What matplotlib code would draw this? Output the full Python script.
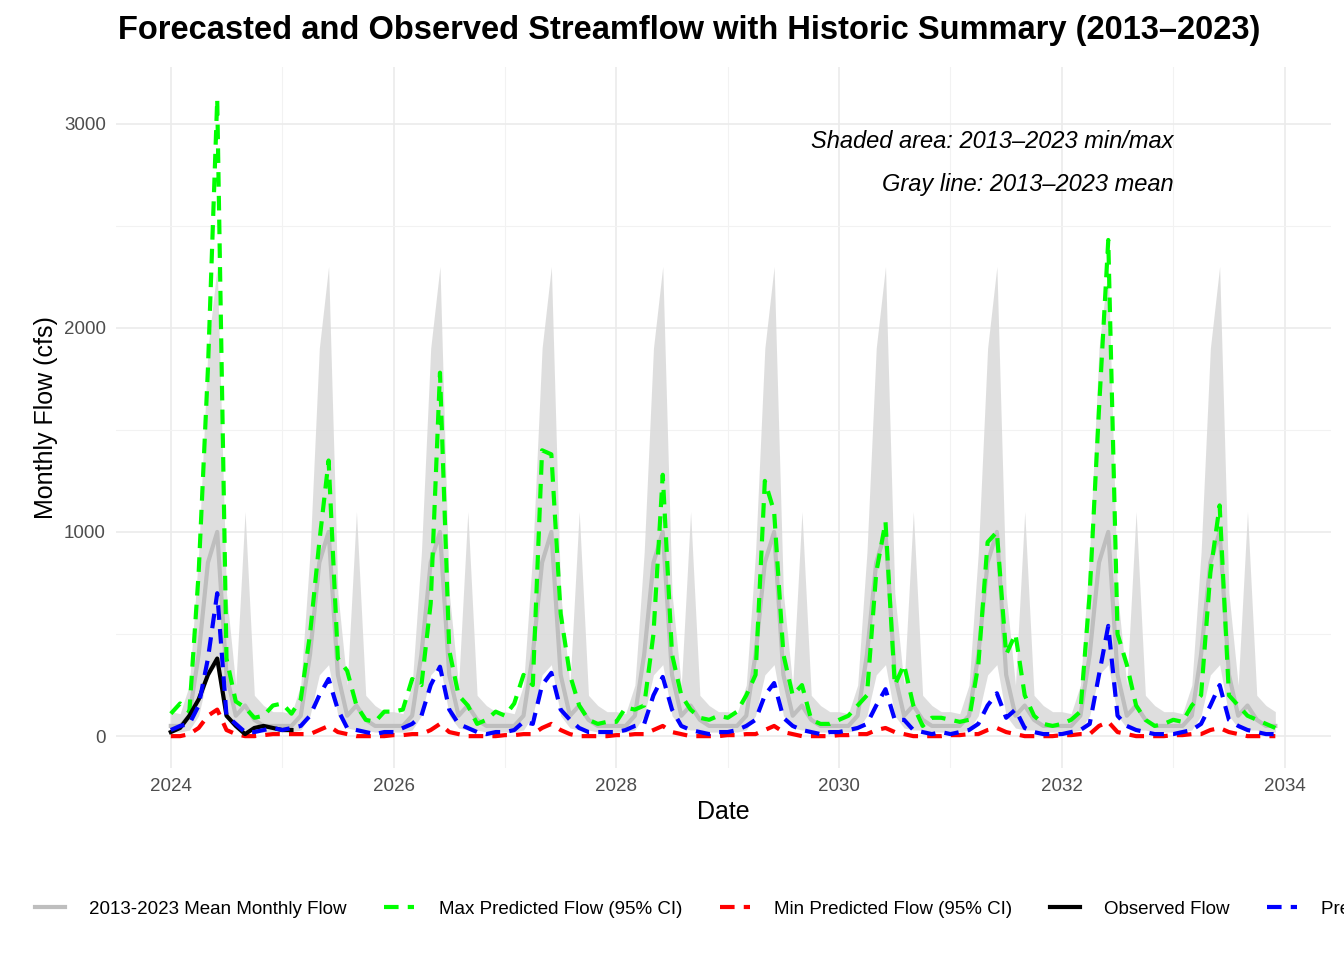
import numpy as np
import matplotlib
matplotlib.use("Agg")
import matplotlib.pyplot as plt
from matplotlib.lines import Line2D

plt.rcParams['font.family'] = ['Liberation Sans', 'DejaVu Sans']

hist_mean = [50, 50, 100, 400, 850, 1000, 300, 100, 150, 80, 50, 50]
hist_min = [20, 20, 30, 100, 300, 350, 100, 40, 30, 30, 20, 20]
hist_max = [120, 110, 250, 900, 1900, 2300, 700, 250, 1100, 200, 150, 120]

max_pred = [
    110, 160, 120, 800, 1800, 3120, 380, 170, 140, 90, 100, 150,
    160, 110, 180, 500, 950, 1350, 380, 320, 150, 80, 70, 120,
    120, 130, 280, 250, 650, 1780, 420, 200, 150, 60, 80, 120,
    100, 160, 300, 250, 1400, 1380, 600, 300, 150, 80, 60, 70,
    70, 140, 130, 150, 500, 1280, 400, 200, 130, 90, 80, 100,
    90, 120, 200, 300, 1250, 1100, 400, 200, 250, 80, 60, 60,
    80, 100, 150, 200, 800, 1050, 250, 350, 150, 50, 90, 90,
    80, 70, 80, 350, 950, 1000, 400, 500, 200, 100, 60, 50,
    60, 80, 120, 700, 1600, 2430, 500, 350, 150, 80, 50, 60,
    80, 70, 150, 200, 800, 1130, 200, 150, 100, 80, 60, 40,
]
mean_pred = [
    30, 50, 60, 150, 380, 700, 100, 60, 20, 20, 30, 40,
    30, 40, 50, 100, 200, 280, 130, 40, 30, 20, 10, 20,
    20, 40, 60, 100, 250, 340, 130, 60, 40, 20, 10, 20,
    20, 30, 70, 60, 250, 310, 130, 80, 40, 20, 20, 20,
    20, 30, 50, 60, 200, 290, 130, 50, 30, 20, 10, 20,
    20, 30, 50, 80, 200, 260, 90, 50, 30, 20, 10, 20,
    20, 30, 40, 60, 150, 230, 80, 80, 30, 20, 10, 20,
    10, 20, 30, 60, 150, 210, 90, 130, 40, 20, 10, 10,
    10, 20, 30, 60, 300, 540, 100, 50, 30, 20, 10, 10,
    10, 20, 30, 60, 150, 250, 80, 50, 30, 20, 10, 10,
]
min_pred = [
    0, 0, 10, 40, 100, 130, 30, 10, 0, 0, 5, 10,
    10, 10, 10, 10, 30, 50, 20, 10, 0, 0, 0, 0,
    5, 5, 10, 10, 30, 60, 20, 10, 0, 0, 0, 0,
    5, 5, 10, 10, 40, 60, 30, 10, 0, 0, 0, 0,
    5, 5, 10, 10, 30, 50, 20, 10, 0, 0, 0, 0,
    5, 5, 10, 10, 30, 50, 20, 10, 0, 0, 0, 0,
    5, 5, 10, 10, 30, 40, 20, 10, 0, 0, 0, 0,
    5, 5, 10, 10, 30, 40, 20, 10, 0, 0, 0, 0,
    5, 5, 10, 10, 50, 70, 20, 10, 0, 0, 0, 0,
    5, 5, 10, 10, 30, 40, 20, 10, 0, 0, 0, 0,
]
observed = [20, 40, 100, 180, 300, 380, 100, 50, 10, 40, 50, 40, 30, 30]

n = len(max_pred)
t = 2024 + np.arange(n) / 12.0
years = 10
hm = np.tile(hist_mean, years)
hlo = np.tile(hist_min, years)
hhi = np.tile(hist_max, years)

fig = plt.figure(figsize=(13.44, 9.6), dpi=100)
ax = fig.add_axes([0.086, 0.2, 0.904, 0.73])

ax.fill_between(t, hlo, hhi, color="#d9d9d9", alpha=0.85, lw=0)
ax.plot(t, hm, color="#bebebe", lw=3)
dash = (3.5, 2.2)
ax.plot(t, max_pred, color="#00ff00", lw=3, dashes=dash)
ax.plot(t, min_pred, color="#ff0000", lw=3, dashes=dash)
ax.plot(t[:len(observed)], observed, color="black", lw=3)
ax.plot(t, mean_pred, color="#0000ff", lw=3, dashes=dash)

ymax = max(max(max_pred), max(hist_max))
ax.set_ylim(-0.05 * ymax, ymax * 1.05)
rng = t[-1] - t[0]
ax.set_xlim(t[0] - 0.05 * rng, t[-1] + 0.05 * rng)
ax.set_xticks([2024, 2026, 2028, 2030, 2032, 2034])
ax.set_xticks([2025, 2027, 2029, 2031, 2033], minor=True)
ax.set_yticks([0, 1000, 2000, 3000])
ax.set_yticks([500, 1500, 2500], minor=True)
ax.grid(True, which="major", color="#ebebeb", lw=1.2)
ax.grid(True, which="minor", color="#f2f2f2", lw=0.8)
ax.set_axisbelow(True)
for s in ax.spines.values():
    s.set_visible(False)
ax.tick_params(which="both", length=0, labelsize=13.5, labelcolor="#4d4d4d", pad=7)
ax.set_xlabel("Date", fontsize=18)
ax.set_ylabel("Monthly Flow (cfs)", fontsize=18)

ax.text(2033.0, 2910, "Shaded area: 2013\u20132023 min/max", ha="right", va="center",
        fontsize=17, style="italic")
ax.text(2033.0, 2700, "Gray line: 2013\u20132023 mean", ha="right", va="center",
        fontsize=17, style="italic")

fig.text(118 / 1344, 1 - 30 / 960, "Forecasted and Observed Streamflow with Historic Summary (2013\u20132023)",
         fontsize=23.5, fontweight="bold", ha="left", va="center")

handles = [
    Line2D([], [], color="#bebebe", lw=3),
    Line2D([], [], color="#00ff00", lw=3, dashes=dash),
    Line2D([], [], color="#ff0000", lw=3, dashes=dash),
    Line2D([], [], color="black", lw=3),
    Line2D([], [], color="#0000ff", lw=3, dashes=dash),
]
labels = ["2013-2023 Mean Monthly Flow", "Max Predicted Flow (95% CI)",
          "Min Predicted Flow (95% CI)", "Observed Flow", "Predicted Mean Flow"]
fig.legend(handles, labels, loc="center", bbox_to_anchor=(0.57, 1 - 909 / 960), ncol=5,
           frameon=False, fontsize=13.5, handlelength=1.6, columnspacing=2.0, handletextpad=1.3)

fig.savefig("out.png", dpi=100)
